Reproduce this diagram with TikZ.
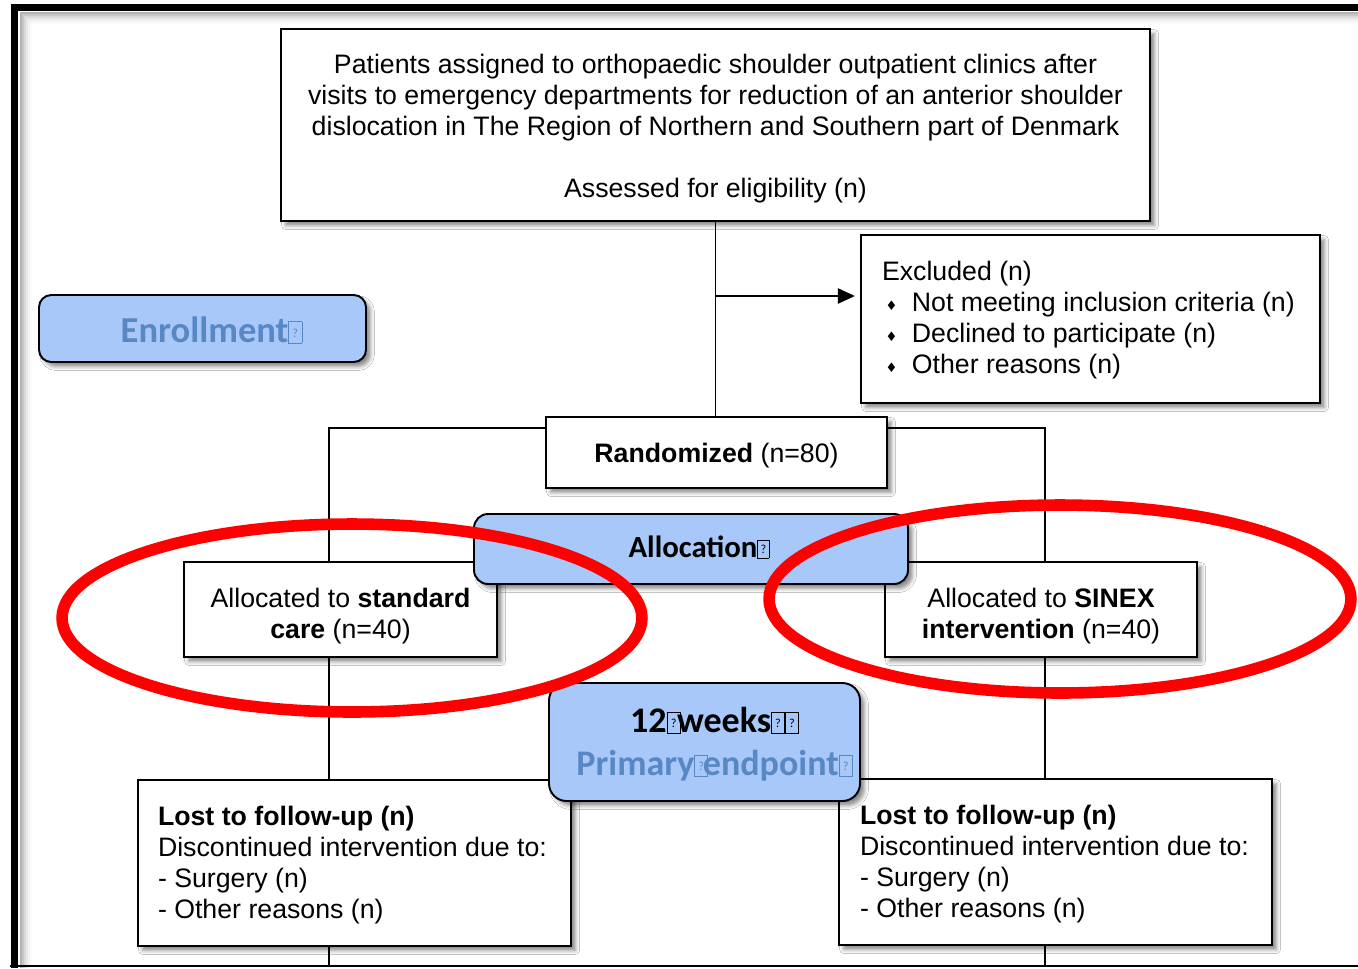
\documentclass[tikz,border=0pt]{standalone}
\usepackage{fontspec}
\setmainfont{Liberation Sans}
\newfontfamily\calib{Carlito}
\newfontfamily\dejavu{DejaVu Sans}
\usetikzlibrary{shadows.blur,arrows.meta}
\definecolor{boxblue}{RGB}{168,200,250}
\definecolor{txtblue}{RGB}{88,136,196}
\definecolor{ovalred}{RGB}{255,0,0}
\newlength\px \setlength\px{0.02cm}
\newcommand{\tofu}{{\setlength{\fboxsep}{0pt}\setlength{\fboxrule}{0.45pt}\fbox{\makebox[0.34em]{\rule{0pt}{0.56em}\raisebox{0.15em}{\fontsize{7}{7}\selectfont\mdseries ?}}}}}
\newcommand{\dia}{\makebox[17pt][l]{\hspace{2pt}\raisebox{0.5pt}{\dejavu\fontsize{7.5}{8}\selectfont ♦}}}
\newcommand{\tb}[3]{\raisebox{#1}[\height][\depth]{\begin{tabular}{@{}#2@{}}#3\end{tabular}}}
\newcommand{\lw}[2]{\raisebox{#1}[\height][\depth]{#2}}
\begin{document}
\begin{tikzpicture}[x=0.02cm,y=-0.02cm,
  sz/.style 2 args={minimum width={#1*0.02cm},minimum height={#2*0.02cm}},
  shad/.style={blur shadow={shadow xshift=2.6pt,shadow yshift=-2.6pt,shadow blur radius=2.2pt,shadow opacity=45}},
  wbox/.style={draw=black,line width=1.1pt,fill=white,inner sep=0pt,outer sep=0pt,shad,font=\fontsize{15.2}{17.6}\selectfont},
  bbox/.style={draw=black,line width=1.1pt,fill=boxblue,inner sep=0pt,outer sep=0pt,shad,font=\calib\bfseries},
  flow/.style={line width=1.1pt,black}]
\useasboundingbox (0,0) rectangle (1358,968);
\fill[white] (0,0) rectangle (1358,968);
% outer frame shadow and frame
\foreach \k/\o in {1/30,2/22,3/15,4/9,5/5,6/2}{
  \draw[black,opacity=\o/100,line width=1.2pt] (19+\k*2,968) -- (19+\k*2,11+\k*2) -- (1358,11+\k*2);
}
\draw[black,line width=1.1pt] (10,966) -- (1358,966);
\draw[black,line width=4pt] (1358,7.5) -- (14.5,7.5) -- (14.5,968);
% coordinates for free ends
\coordinate (lcorner) at (329,428);
\coordinate (rcorner) at (1045,428);
\coordinate (lbot) at (329,966);
\coordinate (rbot) at (1045,966);
\coordinate (armstart) at (716,296);
% nodes
\node[wbox,sz={869}{192}] (top) at (715.5,125) {\tb{-2.4pt}{c}{Patients assigned to orthopaedic shoulder outpatient clinics after\\visits to emergency departments for reduction of an anterior shoulder\\dislocation in The Region of Northern and Southern part of Denmark\\[17.6pt]Assessed for eligibility (n)}};
\node[wbox,sz={459}{168},inner xsep={21*0.02cm}] (excl) at (1090.5,319) {\makebox[417\px][l]{\tb{-1pt}{l}{Excluded (n)\\\dia Not meeting inclusion criteria (n)\\\dia Declined to participate (n)\\\dia Other reasons (n)}}};
\node[wbox,sz={341}{71}] (rand) at (716.5,452.5) {\lw{-1.7pt}{\textbf{Randomized} (n=80)}};
% flow lines (behind boxes below)
\draw[flow] (top.south) -- (top.south |- rand.north);
\draw[flow,-{Triangle[length=9.6pt,width=8.6pt]},shorten >=3.5pt] (armstart) -- (armstart -| excl.west);
\draw[flow] (lcorner -| rand.west) -- (lcorner) -- (lbot);
\draw[flow] (rcorner -| rand.east) -- (rcorner) -- (rbot);
% boxes
\node[bbox,sz={327}{67},rounded corners=7pt,font=\calib\bfseries\fontsize{20.8}{24}\selectfont,text=txtblue] (enrol) at (202.5,328.5) {\hspace{18\px}\lw{-1pt}{Enrollment\tofu}};
\node[wbox,sz={313}{95}] (stdc) at (340.5,609.5) {\tb{-4.4pt}{c}{Allocated to \textbf{standard}\\\textbf{care} (n=40)}};
\node[wbox,sz={312}{95}] (sinex) at (1041,609.5) {\tb{-4.4pt}{c}{Allocated to \textbf{SINEX}\\\textbf{intervention} (n=40)}};
\node[bbox,sz={434}{70},rounded corners=8pt,font=\calib\bfseries\fontsize{17.5}{21}\selectfont] (alloc) at (691,549) {\hspace{16\px}\lw{1pt}{Allocation\tofu}};
\node[wbox,sz={433}{166},inner xsep={20*0.02cm}] (lostl) at (354.5,863) {\makebox[393\px][l]{\tb{-1.8pt}{l}{\textbf{Lost to follow-up (n)}\\Discontinued intervention due to:\\- Surgery (n)\\- Other reasons (n)}}};
\node[wbox,sz={433}{166},inner xsep={21*0.02cm}] (lostr) at (1055.5,862) {\makebox[391\px][l]{\tb{-1.8pt}{l}{\textbf{Lost to follow-up (n)}\\Discontinued intervention due to:\\- Surgery (n)\\- Other reasons (n)}}};
\node[bbox,sz={311}{118},rounded corners=10pt,font=\calib\bfseries\fontsize{20.5}{24.4}\selectfont] (weeks) at (704.5,742) {\hspace{20\px}\tb{-2pt}{c}{12\tofu\kern-2pt weeks\tofu\tofu\\\textcolor{txtblue}{Primary\tofu\kern-3pt endpoint\tofu}}};
% red ovals
\draw[ovalred,line width=6.6pt] (352,618) ellipse [x radius=5.8cm,y radius=1.88cm];
\draw[ovalred,line width=6.6pt] (1060,599) ellipse [x radius=5.82cm,y radius=1.88cm];
\end{tikzpicture}
\end{document}
